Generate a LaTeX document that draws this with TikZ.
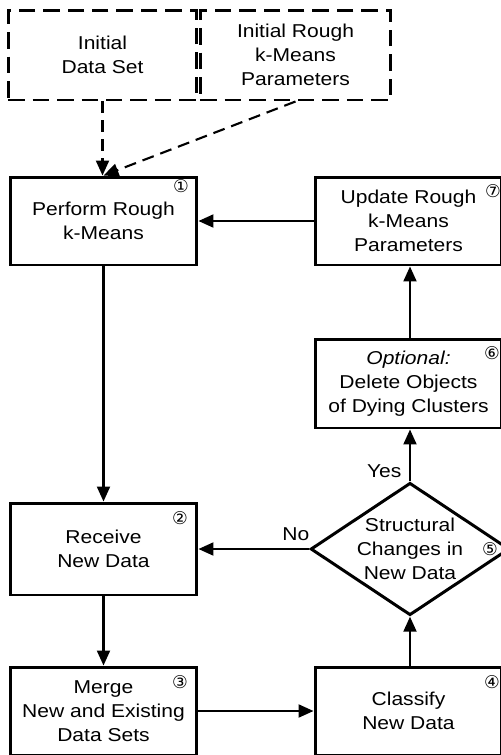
\documentclass[tikz,border=0pt]{standalone}
\usepackage{fontspec}
\setmainfont{Liberation Sans}[FakeStretch=1.13]
\newfontfamily\circfont{DejaVu Sans}
\usetikzlibrary{shapes.geometric,arrows.meta}

\begin{document}
\begin{tikzpicture}[x=0.02cm,y=-0.02cm,
  font=\fontsize{10.6}{13.6}\selectfont,
  box/.style={draw,line width=1.7pt,minimum width=3.74cm,minimum height=1.76cm,align=center,inner sep=0pt},
  inputbox/.style={box,dash pattern=on 0.33cm off 0.16cm},
  decision/.style={diamond,draw,line width=1.7pt,aspect=1.5,inner sep=0pt,minimum width=3.92cm,minimum height=2.56cm,align=center},
  flow/.style={line width=1.2pt,-{Triangle[length=0.3cm,width=0.26cm]}},
  dflow/.style={flow,dash pattern=on 0.24cm off 0.14cm},
  stepnum/.style={font=\circfont\fontsize{10}{10}\selectfont,inner sep=0pt}]
\useasboundingbox (0,0) rectangle (501,755);
\clip (0,0) rectangle (501,755);
% inputs
\node[inputbox,minimum width=3.78cm,minimum height=1.8cm] (init) at (102.5,55) {Initial\\Data Set};
\node[inputbox,minimum width=3.82cm,minimum height=1.8cm] (params) at (295.5,55) {Initial Rough\\k-Means\\Parameters};
% steps
\node[box] (perform) at (103.5,221) {Perform Rough\\k-Means};
\node[box] (update) at (408.5,221) {Update Rough\\k-Means\\Parameters};
\node[box,minimum height=1.78cm] (optional) at (408.5,383.5) {\textit{Optional:}\\Delete Objects\\of Dying Clusters};
\node[box,minimum height=1.84cm] (receive) at (103.5,549) {Receive\\New Data};
\node[decision] (changes) at (410,549) {Structural\\Changes in\\New Data};
\node[box] (merge) at (103.5,711) {Merge\\New and Existing\\Data Sets};
\node[box] (classify) at (408.5,711) {Classify\\New Data};
% step numbers
\node[stepnum] (s1) at (181,186) {①};
\node[stepnum] (s2) at (180,518) {②};
\node[stepnum] (s3) at (180,682) {③};
\node[stepnum] (s4) at (492,682) {④};
\node[stepnum] (s5) at (490,549) {⑤};
\node[stepnum] (s6) at (492,353) {⑥};
\node[stepnum] (s7) at (493,191) {⑦};
% arrows
\draw[dflow] (init.south) -- (init.south |- perform.north);
\draw[dflow] (params.south) -- (perform.north);
\draw[flow] (perform) -- (receive);
\draw[flow] (update) -- (perform);
\draw[flow] (optional.north -| changes.north) -- (changes.north |- update.south);
\draw[flow] (changes.north) -- (changes.north |- optional.south) node[pos=0.2,left=1pt]{Yes};
\draw[flow] (changes.west) -- (receive.east) node[pos=0.12,above=1pt]{No};
\draw[flow] (receive) -- (merge);
\draw[flow] (merge) -- (classify);
\draw[flow] (classify.north -| changes.south) -- (changes.south);
\end{tikzpicture}
\end{document}
